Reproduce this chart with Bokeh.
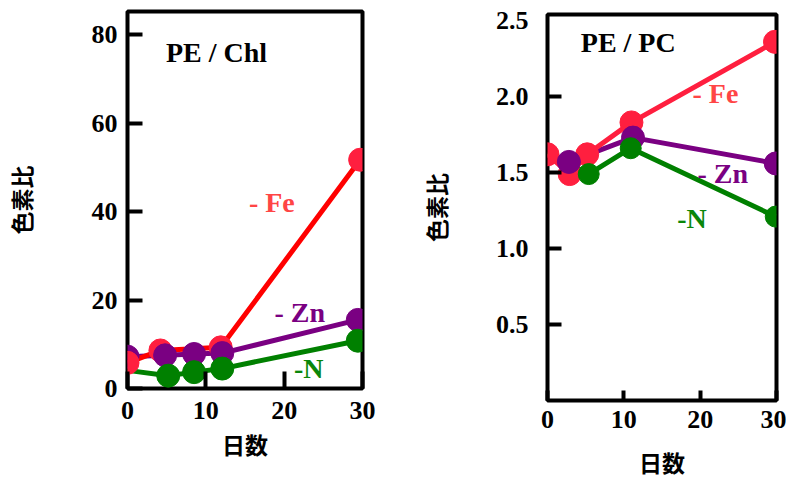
from bokeh.plotting import figure
from bokeh.layouts import row
from bokeh.models import Label, FixedTicker, NumeralTickFormatter
from bokeh.embed import file_html
from bokeh.resources import INLINE

# ---------------- data: PE / Chl (left) ----------------
fe_chl_days = [0, 4.2, 11.9, 29.7]
fe_chl = [5.8, 8.6, 9.3, 51.7]
zn_chl_days = [0, 4.8, 8.5, 12.1, 29.4]
zn_chl = [7.2, 7.5, 7.8, 8.0, 15.5]
n_chl_days = [0, 5.2, 8.5, 12.1, 29.4]
n_chl = [4.1, 2.9, 3.7, 4.5, 10.8]
chl_xticks = [0, 10, 20, 30]
chl_yticks = [0, 20, 40, 60, 80]

# ---------------- data: PE / PC (right) ----------------
fe_pc_days = [0, 2.9, 5.2, 11.0, 29.8]
fe_pc = [1.62, 1.49, 1.62, 1.83, 2.36]
zn_pc_days = [2.8, 11.2, 29.9]
zn_pc = [1.57, 1.73, 1.56]
n_pc_days = [0, 5.4, 10.9, 29.9]
n_pc = [1.63, 1.49, 1.66, 1.21]
pc_xticks = [0, 10, 20, 30]
pc_yticks = [0.5, 1.0, 1.5, 2.0, 2.5]
pc_ytick_marks = [0.5, 1.0, 1.5, 2.0]

x_title = "日数"
y_title = "色素比"

RED_LINE = "#FF0000"
RED = "#FF1F3F"
RED_TXT = "#FF4545"
PURPLE = "#7A0082"
GREEN = "#008000"
GREEN_TXT = "#0A870A"

SERIF = "Liberation Serif"
CJK = "Noto Sans CJK JP"


def style_axis(ax, ticker, tin, std, lstd, minor=False):
    ax.ticker = ticker
    ax.axis_line_color = None
    if minor:
        ax.major_tick_line_color = None
        ax.minor_tick_in = tin
        ax.minor_tick_out = 0
        ax.minor_tick_line_width = 4
        ax.minor_tick_line_color = "black"
    else:
        ax.major_tick_in = tin
        ax.major_tick_out = 0
        ax.major_tick_line_width = 4
        ax.major_tick_line_color = "black"
        ax.minor_tick_line_color = None
    ax.major_label_text_font = SERIF
    ax.major_label_text_font_style = "bold"
    ax.major_label_text_font_size = "26px"
    ax.major_label_text_color = "black"
    ax.major_label_standoff = std
    ax.axis_label_text_font = CJK
    ax.axis_label_text_font_style = "bold"
    ax.axis_label_text_font_size = "23px"
    ax.axis_label_text_color = "black"
    ax.axis_label_standoff = lstd


def frame(p):
    p.frame_align = False
    p.xgrid.visible = False
    p.ygrid.visible = False
    p.outline_line_color = "black"
    p.outline_line_width = 4
    p.background_fill_color = "white"
    p.border_fill_color = "white"


def label(p, x, y, text, color):
    p.add_layout(Label(x=x, y=y, text=text, text_font=SERIF, text_font_style="bold",
                       text_font_size="28px", text_color=color,
                       text_baseline="middle", text_align="left"))


# ---------------- left figure ----------------
p1 = figure(width=400, height=482, x_range=(0, 30), y_range=(0, 85.2),
            output_backend="svg", toolbar_location=None,
            x_axis_label=x_title, y_axis_label=y_title)
p1.min_border_left = 122
p1.min_border_right = 38
p1.min_border_top = 11
p1.min_border_bottom = 94
frame(p1)
style_axis(p1.xaxis[0], FixedTicker(ticks=chl_xticks), 17, 13, 5)
style_axis(p1.yaxis[0], FixedTicker(ticks=chl_yticks), 15, 10, 51)

p1.line(n_chl_days, n_chl, line_color=GREEN, line_width=5)
p1.line(zn_chl_days, zn_chl, line_color=PURPLE, line_width=5)
p1.line(fe_chl_days, fe_chl, line_color=RED_LINE, line_width=5)
p1.scatter(zn_chl_days[:1], zn_chl[:1], size=23, color=PURPLE)
p1.scatter(fe_chl_days, fe_chl, size=23, color=RED)
p1.scatter(zn_chl_days[1:], zn_chl[1:], size=23, color=PURPLE)
p1.scatter(n_chl_days[1:], n_chl[1:], size=23, color=GREEN)

label(p1, 4.9, 75.9, "PE / Chl", "black")
label(p1, 15.5, 42.0, "- Fe", RED_TXT)
label(p1, 18.75, 17.2, "- Zn", PURPLE)
label(p1, 21.25, 4.45, "-N", GREEN_TXT)

# ---------------- right figure ----------------
p2 = figure(width=386, height=482, x_range=(0, 30), y_range=(0, 2.54),
            output_backend="svg", toolbar_location=None,
            x_axis_label=x_title, y_axis_label=y_title)
p2.min_border_left = 147
p2.min_border_right = 10
p2.min_border_top = 14
p2.min_border_bottom = 82
frame(p2)
style_axis(p2.xaxis[0], FixedTicker(ticks=pc_xticks), 10, 10, 14)
style_axis(p2.yaxis[0], FixedTicker(ticks=pc_yticks, minor_ticks=pc_ytick_marks), 14, 13, 40, minor=True)
p2.yaxis[0].formatter = NumeralTickFormatter(format="0.0")

p2.line(n_pc_days, n_pc, line_color=GREEN, line_width=5)
p2.line(zn_pc_days, zn_pc, line_color=PURPLE, line_width=5)
p2.line(fe_pc_days, fe_pc, line_color=RED, line_width=5)
p2.scatter(fe_pc_days, fe_pc, size=23, color=RED)
p2.scatter(zn_pc_days, zn_pc, size=23, color=PURPLE)
p2.scatter(n_pc_days[1:], n_pc[1:], size=21, color=GREEN)

label(p2, 4.36, 2.358, "PE / PC", "black")
label(p2, 19.0, 2.018, "- Fe", RED_TXT)
label(p2, 19.65, 1.492, "- Zn", PURPLE)
label(p2, 17.0, 1.196, "-N", GREEN_TXT)

layout = row(p1, p2)
open("out.html", "w").write(file_html(layout, INLINE))
